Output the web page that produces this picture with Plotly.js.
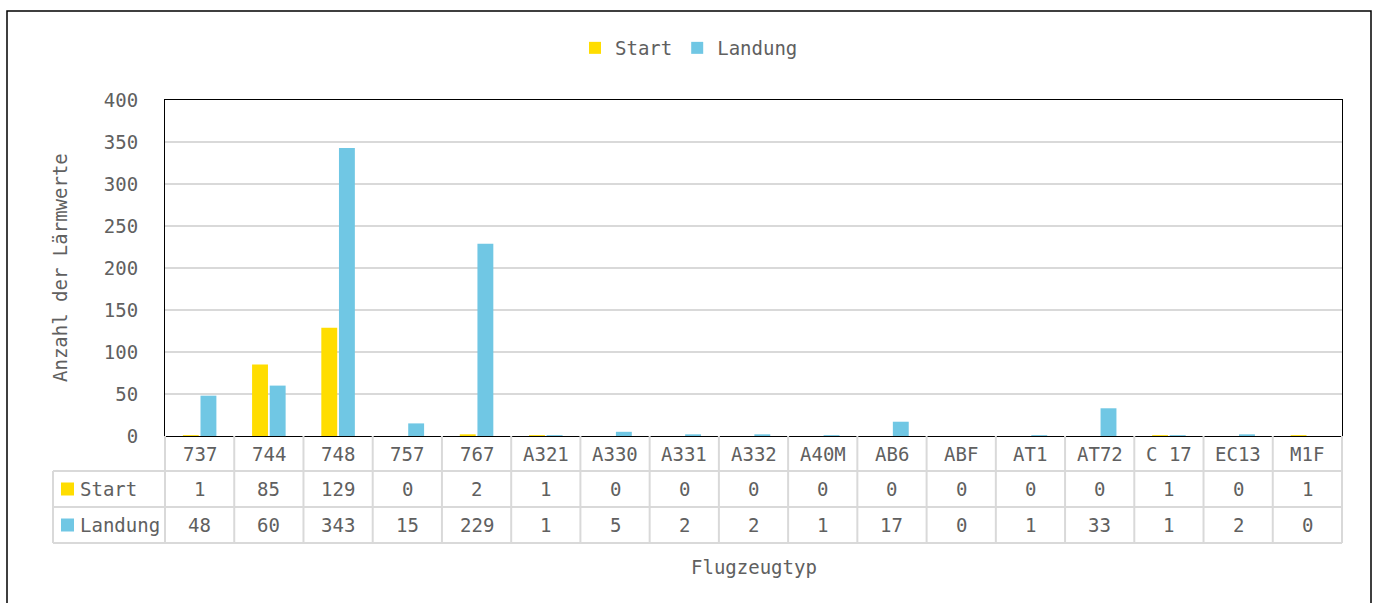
<!DOCTYPE html>
<html><head><meta charset="utf-8">
<script src="https://cdn.plot.ly/plotly-3.0.1.min.js"></script>
<style>html,body{margin:0;padding:0;background:#fff;}#chart{width:1378px;height:603px;}</style>
</head><body><div id="chart"></div>
<script>
const categories = ["737","744","748","757","767","A321","A330","A331","A332","A40M","AB6","ABF","AT1","AT72","C 17","EC13","M1F"];
const startValues = [1,85,129,0,2,1,0,0,0,0,0,0,0,0,1,0,1];
const landungValues = [48,60,343,15,229,1,5,2,2,1,17,0,1,33,1,2,0];
const seriesNames = ["Start","Landung"];
const yTicks = [0,50,100,150,200,250,300,350,400];
const xTitle = "Flugzeugtyp";
const yTitle = "Anzahl der Lärmwerte";

const YELLOW = "#FFDD00", BLUE = "#70C7E4";
const FONT = "'DejaVu Sans Mono', monospace";
const FS = 19;
const TXT = "#606060";
const GRID = "#d9d9d9";

const W = 1378, H = 603;
const mL = 165, mR = 36, mT = 100, mB = 167;
const plotW = W - mL - mR, plotH = H - mT - mB;
const px2x = p => (p - mL) / plotW;
const py2y = p => (H - mB - p) / plotH;

const n = categories.length;
const rowTop = [436, 471, 507, 543];
const tableLeftPx = 53;

const shapes = [];
const annotations = [];
const line = {color: GRID, width: 2};
for (let r = 1; r <= 3; r++) {
  shapes.push({type:'line', xref:'paper', yref:'paper', x0:px2x(tableLeftPx), x1:1, y0:py2y(rowTop[r]), y1:py2y(rowTop[r]), line});
}
for (let i = 0; i <= n; i++) {
  shapes.push({type:'line', xref:'paper', yref:'paper', x0:i/n, x1:i/n, y0:py2y(rowTop[0]), y1:py2y(rowTop[3]), line});
}
shapes.push({type:'line', xref:'paper', yref:'paper', x0:px2x(tableLeftPx), x1:px2x(tableLeftPx), y0:py2y(rowTop[1]), y1:py2y(rowTop[3]), line});
shapes.push({type:'rect', xref:'paper', yref:'paper', x0:px2x(7), x1:px2x(1371), y0:py2y(11), y1:py2y(610), line:{color:'#000', width:1.5}});
const keyColors = [YELLOW, BLUE];
for (let r = 0; r < 2; r++) {
  const cy = (rowTop[r+1] + rowTop[r+2]) / 2;
  shapes.push({type:'rect', xref:'paper', yref:'paper', x0:px2x(61), x1:px2x(74), y0:py2y(cy-6.5), y1:py2y(cy+6.5), fillcolor:keyColors[r], line:{width:0}});
  annotations.push({xref:'paper', yref:'paper', x:px2x(78), y:py2y(cy), xanchor:'left', yanchor:'middle', text:seriesNames[r], showarrow:false, font:{family:FONT, size:FS, color:TXT}});
}
const rows = [categories, startValues, landungValues];
for (let r = 0; r < 3; r++) {
  const cy = (rowTop[r] + rowTop[r+1]) / 2;
  for (let i = 0; i < n; i++) {
    annotations.push({xref:'x', yref:'paper', x:i, y:py2y(cy), xanchor:'center', yanchor:'middle', text:String(rows[r][i]), showarrow:false, font:{family:FONT, size:FS, color:TXT}});
  }
}
annotations.push({xref:'paper', yref:'paper', x:0.5, y:py2y(567), xanchor:'center', yanchor:'middle', text:xTitle, showarrow:false, font:{family:FONT, size:FS, color:TXT}});
annotations.push({xref:'paper', yref:'paper', x:px2x(60), y:0.5, xanchor:'center', yanchor:'middle', textangle:-90, text:yTitle, showarrow:false, font:{family:FONT, size:FS, color:TXT}});

const traces = [
  {type:'bar', name:seriesNames[0], x:categories, y:startValues, marker:{color:YELLOW}},
  {type:'bar', name:seriesNames[1], x:categories, y:landungValues, marker:{color:BLUE}}
];

const layout = {
  width: W, height: H,
  margin: {l:mL, r:mR, t:mT, b:mB, pad:0},
  paper_bgcolor:'#fff', plot_bgcolor:'#fff',
  barmode:'group', bargap:0.49, bargroupgap:0.1,
  font:{family:FONT, size:FS, color:TXT},
  showlegend:true,
  legend:{orientation:'h', x:px2x(689), xanchor:'center', y:py2y(48), yanchor:'middle', font:{family:FONT, size:FS, color:TXT}, itemwidth:30, traceorder:'normal'},
  xaxis:{type:'category', showticklabels:false, ticks:'', showgrid:false, zeroline:false, showline:true, mirror:true, linecolor:'#000', linewidth:1, range:[-0.5, n-0.5], fixedrange:true},
  yaxis:{range:[0,400], tickvals:yTicks, ticktext:yTicks.map(String), showgrid:true, gridcolor:GRID, gridwidth:1.5, zeroline:false, showline:true, mirror:true, linecolor:'#000', linewidth:1, ticks:'', ticklabelstandoff:22, tickfont:{family:FONT, size:FS, color:TXT}, fixedrange:true},
  shapes, annotations
};
Plotly.newPlot('chart', traces, layout, {displayModeBar:false, staticPlot:true});
</script></body></html>
